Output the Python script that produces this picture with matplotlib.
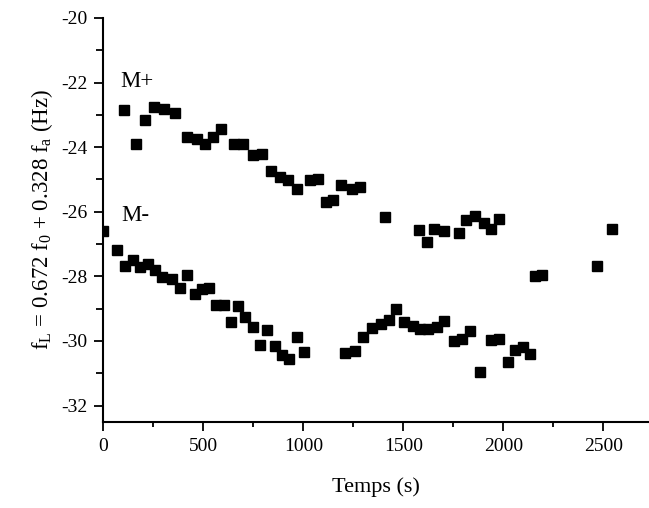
import matplotlib
matplotlib.use("Agg")
import matplotlib.pyplot as plt
from matplotlib.ticker import MultipleLocator

plt.rcParams['font.family'] = ['Liberation Serif', 'DejaVu Serif']
plt.rcParams['mathtext.fontset'] = 'custom'
plt.rcParams['mathtext.rm'] = 'Liberation Serif'
plt.rcParams['mathtext.it'] = 'Liberation Serif:italic'
plt.rcParams['axes.unicode_minus'] = False

# M+ series
t_plus = [102, 165, 208, 255, 302, 358, 418, 467, 508, 547, 590, 655, 698, 748, 792,
          837, 883, 925, 968, 1032, 1075, 1112, 1150, 1190, 1245, 1282, 1407, 1580,
          1617, 1655, 1703, 1778, 1815, 1857, 1903, 1940, 1977, 2158, 2195, 2468, 2542]
f_plus = [-22.84, -23.91, -23.15, -22.77, -22.81, -22.95, -23.69, -23.76, -23.91, -23.70,
          -23.45, -23.89, -23.89, -24.24, -24.21, -24.73, -24.91, -25.01, -25.31, -25.02,
          -24.98, -25.70, -25.63, -25.16, -25.29, -25.24, -26.15, -26.55, -26.93, -26.53,
          -26.60, -26.66, -26.24, -26.14, -26.34, -26.54, -26.21, -28.00, -27.97, -27.68,
          -26.54]

# M- series
t_minus = [0, 67, 107, 147, 183, 222, 258, 293, 345, 382, 417, 457, 492, 528, 563, 603,
           637, 673, 708, 747, 783, 820, 857, 893, 930, 967, 1003, 1210, 1260, 1300, 1343,
           1387, 1427, 1463, 1502, 1550, 1583, 1625, 1667, 1703, 1753, 1795, 1835, 1885,
           1938, 1977, 2023, 2060, 2097, 2133]
f_minus = [-26.59, -27.17, -27.68, -27.48, -27.71, -27.63, -27.79, -28.02, -28.07, -28.36,
           -27.97, -28.54, -28.39, -28.35, -28.88, -28.88, -29.40, -28.93, -29.27, -29.56,
           -30.14, -29.67, -30.16, -30.42, -30.56, -29.87, -30.33, -30.38, -30.30, -29.87,
           -29.59, -29.47, -29.34, -29.01, -29.41, -29.53, -29.62, -29.62, -29.58, -29.39,
           -30.01, -29.95, -29.68, -30.95, -29.98, -29.94, -30.66, -30.28, -30.19, -30.41]

labels = ["M+", "M-"]
label_pos = [(86, -21.97), (90, -26.12)]

fig = plt.figure(figsize=(6.49, 5.08), dpi=100)
ax = fig.add_axes([0.1592, 0.1699, 0.8408, 0.7947])

ax.plot(t_plus, f_plus, 's', color='black', markersize=6.5, clip_on=True)
ax.plot(t_minus, f_minus, 's', color='black', markersize=6.5, clip_on=True)

for lab, (x, y) in zip(labels, label_pos):
    ax.text(x, y, lab, fontsize=16.5, ha='left', va='center')

ax.set_xlim(0, 2728)
ax.set_ylim(-32.5, -20)
ax.xaxis.set_major_locator(MultipleLocator(500))
ax.xaxis.set_minor_locator(MultipleLocator(250))
ax.yaxis.set_major_locator(MultipleLocator(2))
ax.yaxis.set_minor_locator(MultipleLocator(1))

for s in ['top', 'right']:
    ax.spines[s].set_visible(False)
for s in ['left', 'bottom']:
    ax.spines[s].set_linewidth(1.5)

ax.tick_params(axis='both', which='major', direction='out', length=6.5, width=1.3,
               labelsize=14, pad=5)
ax.tick_params(axis='x', which='minor', direction='out', length=3.5, width=1.3)
ax.tick_params(axis='y', which='minor', direction='out', length=5, width=1.3)

ax.set_xlabel('Temps (s)', fontsize=16, labelpad=16)
ax.set_ylabel(r'f$_\mathrm{L}$ = 0.672 f$_0$ + 0.328 f$_\mathrm{a}$ (Hz)', fontsize=16.5,
              labelpad=4)

fig.savefig('out.png', dpi=100)
